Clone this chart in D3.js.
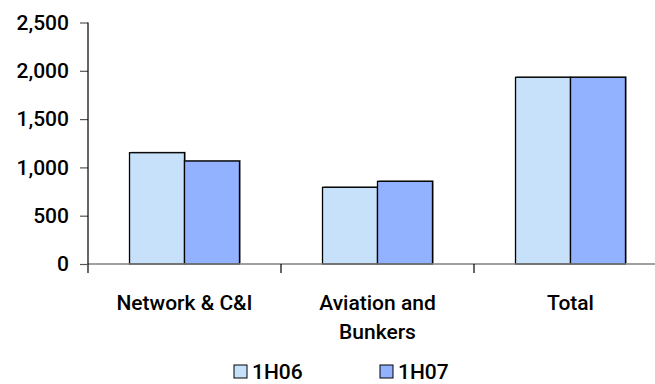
<!DOCTYPE html>
<html>
<head>
<meta charset="utf-8">
<script src="https://cdn.jsdelivr.net/npm/d3@7/dist/d3.min.js"></script>
<style>
  html, body { margin: 0; padding: 0; background: #fff; }
  svg { display: block; }
  text { font-family: Roboto, "Liberation Sans", Arial, sans-serif; font-weight: 500; fill: #000; }
</style>
</head>
<body>
<svg id="chart" width="655" height="384"></svg>
<script>
// Volumes by segment, first half of each year
const categories = ["Network & C&I", "Aviation and\nBunkers", "Total"];
const seriesNames = ["1H06", "1H07"];
const values1H06 = [1152, 794, 1933];
const values1H07 = [1066, 856, 1933];
const yTicks = [0, 500, 1000, 1500, 2000, 2500];

const colors = { "1H06": "#c8e1fb", "1H07": "#92b1ff" };
const seriesValues = { "1H06": values1H06, "1H07": values1H07 };

const svg = d3.select("#chart");
const fontSize = 21;
const fontFamily = "Roboto, \"Liberation Sans\", Arial, sans-serif";

const x0 = d3.scaleBand().domain(categories).range([88, 667]).padding(0);
const x1 = d3.scaleBand().domain(seriesNames).range([0, x0.bandwidth()])
  .paddingInner(0).paddingOuter(0.755);
const y = d3.scaleLinear().domain([0, 2500]).range([264, 22.5]);

// Bars
const groups = svg.append("g").selectAll("g")
  .data(categories)
  .join("g")
  .attr("transform", d => `translate(${x0(d)},0)`);

groups.selectAll("rect.shadow")
  .data((d, i) => seriesNames.map(s => ({ s, v: seriesValues[s][i] })))
  .join("rect")
  .attr("class", "shadow")
  .attr("x", d => x1(d.s) + 1.5)
  .attr("y", d => y(d.v) - 1)
  .attr("width", x1.bandwidth())
  .attr("height", d => y(0) - y(d.v))
  .attr("fill", "#9a9a9a");

groups.selectAll("rect.bar")
  .data((d, i) => seriesNames.map(s => ({ s, v: seriesValues[s][i] })))
  .join("rect")
  .attr("class", "bar")
  .attr("x", d => x1(d.s))
  .attr("y", d => y(d.v))
  .attr("width", x1.bandwidth())
  .attr("height", d => y(0) - y(d.v))
  .attr("fill", d => colors[d.s])
  .attr("stroke", "#000")
  .attr("stroke-width", 1.3);

// X axis: grey baseline with black ticks at category boundaries
svg.append("line")
  .attr("x1", 88).attr("x2", 667)
  .attr("y1", y(0)).attr("y2", y(0))
  .attr("stroke", "#808080").attr("stroke-width", 1.5);

svg.append("g").selectAll("line")
  .data(categories.concat(["__end"]))
  .join("line")
  .attr("x1", (d, i) => 88 + i * x0.step())
  .attr("x2", (d, i) => 88 + i * x0.step())
  .attr("y1", y(0)).attr("y2", y(0) + 9)
  .attr("stroke", "#000").attr("stroke-width", 1.2);

// Category labels (may wrap onto two lines)
const labels = svg.append("g").selectAll("text")
  .data(categories)
  .join("text")
  .attr("x", d => x0(d) + x0.bandwidth() / 2)
  .attr("y", 310)
  .attr("text-anchor", "middle")
  .style("font-size", fontSize + "px");
labels.each(function(d) {
  const t = d3.select(this);
  d.split("\n").forEach((line, k) => {
    t.append("tspan")
      .attr("x", x0(d) + x0.bandwidth() / 2)
      .attr("dy", k === 0 ? 0 : 29)
      .text(line);
  });
});

// Y axis
const yAxis = d3.axisLeft(y).tickValues(yTicks).tickFormat(d3.format(",")).tickSize(8).tickPadding(11);
const yg = svg.append("g").attr("transform", "translate(88,0)").call(yAxis);
yg.select(".domain").remove();
yg.selectAll(".tick line").attr("stroke", "#555").attr("stroke-width", 1.2);
yg.selectAll(".tick text")
  .style("font-size", fontSize + "px")
  .style("font-family", fontFamily)
  .style("font-weight", 500)
  .attr("fill", "#000");
svg.append("line")
  .attr("x1", 88).attr("x2", 88)
  .attr("y1", y(2500)).attr("y2", y(0))
  .attr("stroke", "#000").attr("stroke-width", 1.2);

// Legend
const legendX = { "1H06": 234, "1H07": 380 };
const legend = svg.append("g").selectAll("g")
  .data(seriesNames)
  .join("g")
  .attr("transform", d => `translate(${legendX[d]},365)`);
legend.append("rect")
  .attr("width", 13).attr("height", 13)
  .attr("fill", d => colors[d])
  .attr("stroke", "#000").attr("stroke-width", 1);
legend.append("text")
  .attr("x", 18).attr("y", 14)
  .style("font-size", fontSize + "px")
  .text(d => d);
</script>
</body>
</html>
